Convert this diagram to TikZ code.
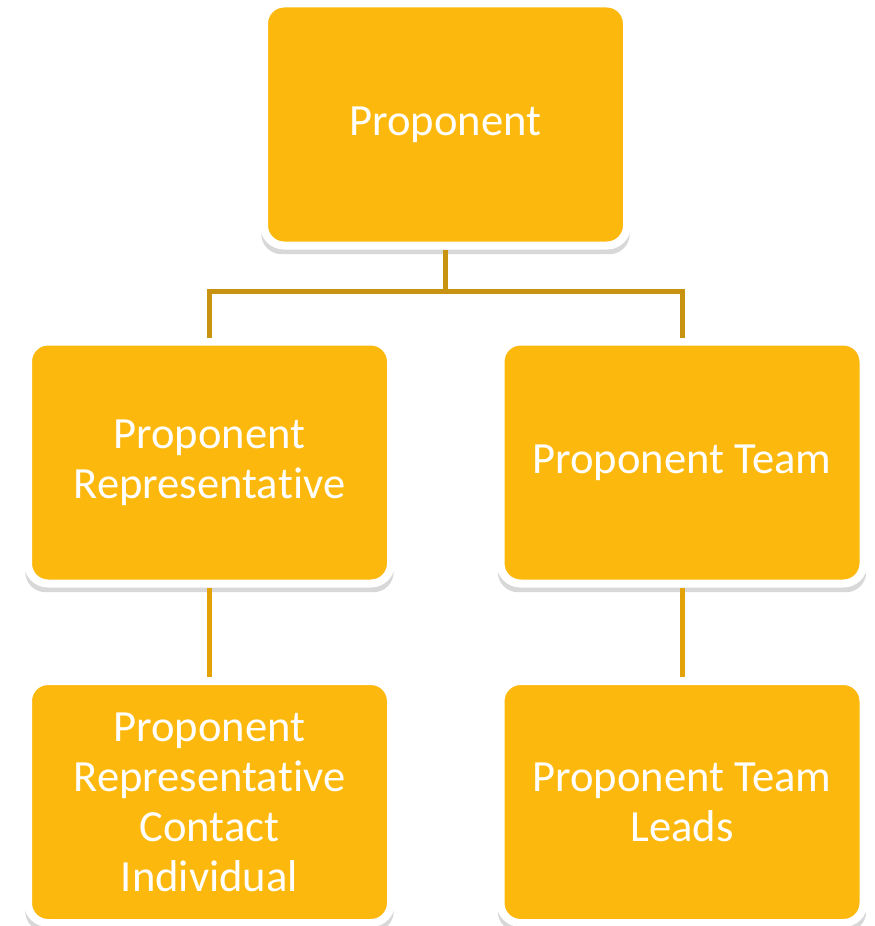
\documentclass[tikz,border=0pt]{standalone}
\usepackage{fontspec}
\setmainfont{Carlito}[Ligatures=NoCommon,Contextuals=NoAlternate]
\usetikzlibrary{shadows}
\definecolor{boxgold}{RGB}{252,184,12}
\definecolor{linkdark}{RGB}{201,147,18}
\definecolor{linklight}{RGB}{226,162,8}

\tikzset{
  rolebox/.style={fill=boxgold,draw=white,line width=8*0.025cm,rounded corners=0.5cm,
    minimum width=363*0.025cm,minimum height=242*0.025cm,align=center,text=white,
    font=\fontsize{31.7}{35.6}\selectfont,
    drop shadow={shadow xshift=0pt,shadow yshift=-0.17cm,shadow scale=1.015,opacity=0.22,fill=black!70}},
  link/.style={line width=5*0.025cm}
}

\begin{document}
\begin{tikzpicture}[x=0.025cm,y=-0.025cm]
\useasboundingbox (0,0) rectangle (874,926);
\node [rolebox] (prop) at (445.5,124.5) {Proponent};
\node [rolebox] (rep) at (209.5,462.5) {Proponent\\Representa\kern0pt tive};
\node [rolebox] (team) at (682,462.5) {Proponent Team};
\node [rolebox] (contact) at (209.5,802) {Proponent\\Representa\kern0pt tive\\Contact\\Individual};
\node [rolebox] (leads) at (682,802) {Proponent Team\\Leads};
\coordinate (hub) at (445.5,291);
\draw [link,linkdark] (prop.south) -- (hub);
\draw [link,linkdark] (hub) -| (rep.north);
\draw [link,linkdark] (hub) -| (team.north);
\draw [link,linklight] (rep.south) -- (contact.north);
\draw [link,linklight] (team.south) -- (leads.north);
\end{tikzpicture}
\end{document}
